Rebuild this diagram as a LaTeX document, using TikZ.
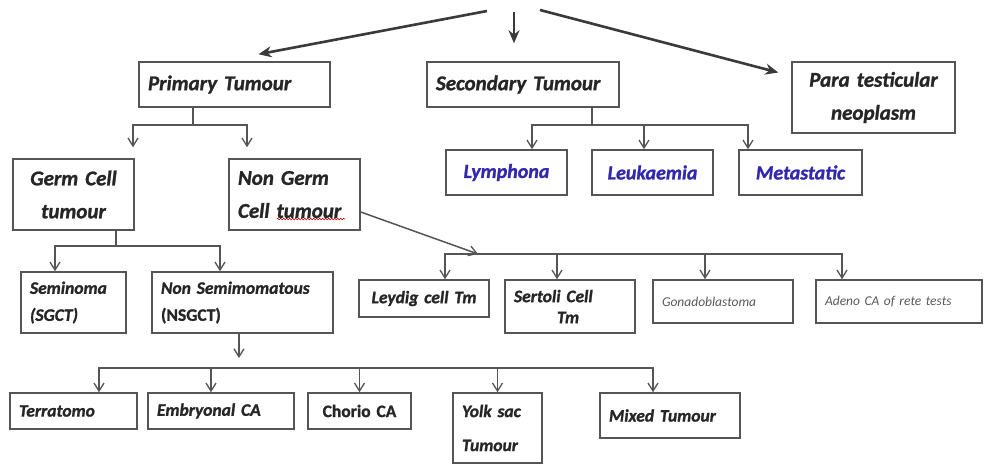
\documentclass[tikz,border=0pt]{standalone}
\usepackage{fontspec}
\setmainfont{Carlito}[BoldFeatures={FakeBold=1.2},BoldItalicFeatures={FakeBold=1.2}]
\usetikzlibrary{arrows.meta,calc,decorations.pathmorphing}
\definecolor{boxc}{HTML}{555555}
\definecolor{linec}{HTML}{555555}
\definecolor{bigc}{HTML}{3A3A3A}
\definecolor{txt}{HTML}{262626}
\definecolor{blu}{HTML}{3228B0}
\definecolor{gry}{HTML}{5A5A5A}
\newcommand{\mybox}[8]{%
  \pgfmathsetmacro\bw{#4-#2}\pgfmathsetmacro\bh{#5-#3}\pgfmathsetmacro\tw{#4-#2-18}%
  \node[box,#7,minimum width=\bw pt,minimum height=\bh pt,text width=\tw pt,align=#6] (#1) at ({(#2+#4)/2},{(#3+#5)/2}) {#8};}
\tikzset{
  box/.style={draw=boxc, line width=1.5pt, fill=white, inner xsep=9pt, inner ysep=2pt, text=txt},
  tA/.style={font=\fontsize{21}{33}\selectfont\bfseries\itshape},
  tB/.style={font=\fontsize{20}{23}\selectfont\bfseries\itshape, text=blu},
  tC/.style={font=\fontsize{17.5}{27}\selectfont\bfseries\itshape},
  tD/.style={font=\fontsize{13.5}{16}\selectfont\itshape, text=gry},
  ln/.style={draw=linec, line width=1.5pt},
  arr/.style={ln, -{Straight Barb[length=8pt,width=10pt,line width=1.3pt]}},
  bigarr/.style={draw=bigc, line width=2.6pt, -{Stealth[length=13pt,width=11pt]}},
}
\begin{document}
\begin{tikzpicture}[x=1pt,y=-1pt]
\useasboundingbox[fill=white] (0,0) rectangle (992,464);
% level 1
\mybox{prim}{139}{62}{330}{107}{left}{tA}{Primary Tumour}
\mybox{sec}{427}{62}{619}{107}{left}{tA}{Secondary Tumour}
\mybox{para}{792}{62}{955}{133}{center}{tA}{Para testicular\\neoplasm}
% secondary children
\mybox{lym}{446}{150}{567}{195}{center}{tB}{Lymphona}
\mybox{leu}{592}{150}{713}{195}{center}{tB}{Leukaemia}
\mybox{met}{739}{150}{862}{195}{center}{tB}{Metastatic}
% primary children
\mybox{germ}{13}{159}{134}{230}{center}{tA}{Germ Cell\\tumour}
\mybox{ngerm}{229}{159}{360}{230}{left}{tA}{Non Germ\\Cell tumour}
% germ children
\mybox{sem}{21}{272}{126}{333}{left}{tC}{Seminoma\\(SGCT)}
\mybox{nsem}{152}{272}{333}{333}{left}{tC}{Non Semimomatous\\{\upshape(NSGCT)}}
% non germ children
\mybox{ley}{359}{280}{489}{317}{center}{tC}{Leydig cell Tm}
\mybox{ser}{505}{280}{635}{333}{left}{tC,font=\fontsize{17.5}{21}\selectfont\bfseries\itshape}{Sertoli Cell\\\hspace*{43pt}Tm}
\mybox{gon}{653}{280}{793}{323}{left}{tD}{Gonadoblastoma}
\mybox{ade}{816}{280}{982}{323}{left}{tD}{Adeno CA of rete tests}
% NSGCT children
\mybox{ter}{10}{393}{137}{429}{left}{tC}{Terratomo}
\mybox{emb}{148}{393}{294}{429}{left}{tC}{Embryonal CA}
\mybox{cho}{308}{393}{411}{429}{center}{tC,font=\fontsize{17.5}{27}\selectfont\bfseries}{Chorio CA}
\mybox{yolk}{453}{393}{542}{463}{left}{tC,font=\fontsize{17.5}{34}\selectfont\bfseries\itshape}{Yolk sac\\Tumour}
\mybox{mix}{600}{393}{740}{438}{left}{tC}{Mixed Tumour}
% spell-check underline
\draw[red!80!black, line width=0.6pt, decorate, decoration={snake, segment length=3pt, amplitude=0.8pt}]
  ([xshift=-84pt,yshift=-24.5pt]ngerm.east) -- ([xshift=-16pt,yshift=-24.5pt]ngerm.east);
% top arrows
\coordinate (tl) at (487,11);
\coordinate (tc) at (514,12);
\coordinate (tr) at (540,10);
\draw[bigarr] (tl) -- ([xshift=24pt,yshift=7pt]prim.north);
\draw[bigarr] (tc) -- ([xshift=-9pt,yshift=18pt]sec.north);
\draw[bigarr] (tr) -- ([xshift=-13pt,yshift=25pt]para.west);
% primary branch
\coordinate (pj) at (193,125);
\draw[ln] (prim.south -| pj) -- (pj);
\draw[arr] (pj) -| ([xshift=59.5pt,yshift=11pt]germ.north);
\draw[arr] (pj) -| ([xshift=-47.5pt,yshift=11pt]ngerm.north);
% secondary branch
\coordinate (sj) at (592,125);
\draw[ln] (sec.south -| sj) -- (sj);
\draw[arr] (sj) -| ([xshift=25.5pt]lym.north);
\draw[arr] (sj) -| ([xshift=-8.5pt]leu.north);
\draw[arr] (sj) -| ([xshift=-52.5pt]met.north);
% germ branch
\coordinate (gj) at (116,246);
\draw[ln] (germ.south -| gj) -- (gj);
\draw[arr] (gj) -| ([xshift=-18.5pt]sem.north);
\draw[arr] (gj) -| ([xshift=-22.5pt]nsem.north);
% non germ branch
\coordinate (nj) at (478,254);
\draw[arr] ([yshift=-17.5pt]ngerm.east) -- (nj);
\draw[arr] (nj) -| ([xshift=21pt]ley.north);
\draw[arr] (nj) -| ([xshift=-13pt]ser.north);
\draw[arr] (nj) -| ([xshift=-18pt]gon.north);
\draw[arr] (nj) -| ([xshift=-57pt]ade.north);
% NSGCT branch
\coordinate (nd) at (239,358);
\draw[arr] (nsem.south -| nd) -- (nd);
\coordinate (bj) at (239,368);
\draw[arr] (bj) -| ([xshift=25.5pt]ter.north);
\draw[arr] (bj) -| ([xshift=-10pt]emb.north);
\draw[arr] (bj) -| (cho.north);
\draw[arr] (bj) -| (yolk.north);
\draw[arr] (bj) -| ([xshift=-17pt]mix.north);
\end{tikzpicture}
\end{document}
